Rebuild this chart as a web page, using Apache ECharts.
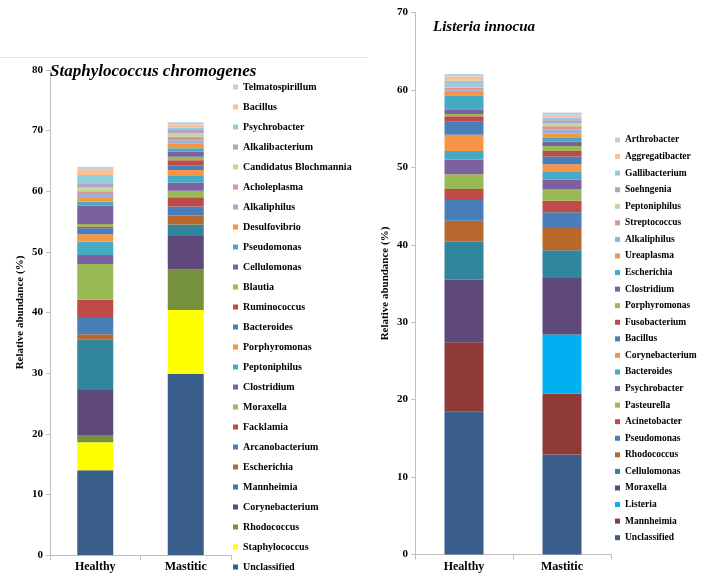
<!DOCTYPE html>
<html>
<head>
<meta charset="utf-8">
<script src="https://cdn.jsdelivr.net/npm/echarts@6/dist/echarts.min.js"></script>
<style>html,body{margin:0;padding:0;background:#fff}#c{width:708px;height:576px}</style>
</head>
<body>
<div id="c"></div>
<script>
// ---------- DATA ----------
const categories = ['Healthy', 'Mastitic'];

// Staphylococcus chromogenes (stack order bottom -> top)
const leftNames = ['Unclassified','Staphylococcus','Rhodococcus','Corynebacterium','Mannheimia','Escherichia',
  'Arcanobacterium','Facklamia','Moraxella','Clostridium','Peptoniphilus','Porphyromonas','Bacteroides',
  'Ruminococcus','Blautia','Cellulomonas','Pseudomonas','Desulfovibrio','Alkaliphilus','Acholeplasma',
  'Candidatus Blochmannia','Alkalibacterium','Psychrobacter','Bacillus','Telmatospirillum'];
const leftHealthy  = [14.0,4.6,1.2,7.4,8.3,0.9,2.7,3.0,5.9,1.5,2.2,1.2,1.0,0.3,0.4,3.0,0.7,0.6,0.8,0.3,0.6,0.7,1.4,0.9,0.4];
const leftMastitic = [29.9,10.5,6.7,5.5,1.9,1.5,1.5,1.5,1.1,1.3,1.1,1.0,0.8,0.8,0.6,0.8,0.6,0.8,0.5,0.6,0.6,0.5,0.4,0.5,0.4];

// Listeria innocua (stack order bottom -> top)
const rightNames = ['Unclassified','Mannheimia','Listeria','Moraxella','Cellulomonas','Rhodococcus','Pseudomonas',
  'Acinetobacter','Pasteurella','Psychrobacter','Bacteroides','Corynebacterium','Bacillus','Fusobacterium',
  'Porphyromonas','Clostridium','Escherichia','Ureaplasma','Alkaliphilus','Streptococcus','Peptoniphilus',
  'Soehngenia','Gallibacterium','Aggregatibacter','Arthrobacter'];
const rightHealthy  = [18.5,8.9,0,8.1,4.9,2.7,2.7,1.4,1.9,1.9,1.1,2.1,1.7,0.7,0.3,0.6,1.8,0.6,0.1,0.3,0.1,0.2,0.6,0.55,0.3];
const rightMastitic = [12.9,7.85,7.65,7.3,3.6,3.0,1.9,1.5,1.5,1.2,1.1,0.9,1.0,0.7,0.65,0.55,0.5,0.6,0.5,0.4,0.4,0.4,0.3,0.3,0.4];

const leftTicks = [0,10,20,30,40,50,60,70,80];
const rightTicks = [0,10,20,30,40,50,60,70];

// ---------- STYLE ----------
const C = {
  dkBlue:'#3A5E8C', yellow:'#FFFF00', olive:'#76923C', dkPurple:'#5F497A', dkTeal:'#31859C', dkOrange:'#B9682D',
  dkRed:'#8F3A36', cyan:'#00B0F0', blue:'#4A7EBB', red:'#BE4B48', green:'#98B954', purple:'#7D60A0',
  teal:'#46AAC5', orange:'#F69546', ltBlue:'#95B3D7', pink:'#D99694', ltGreen:'#C3D69B', lavender:'#B3A2C7',
  ltTeal:'#93CDDD', peach:'#FAC090', ltLav:'#C0CDE6'
};
const base = ['blue','red','green','purple','teal','orange','blue','red','green','purple','teal','orange'];
const light = ['ltBlue','pink','ltGreen','lavender','ltTeal','peach','ltLav'];
const leftColors = ['dkBlue','yellow','olive','dkPurple','dkTeal','dkOrange'].concat(base, light).map(k => C[k]);
const rightColors = ['dkBlue','dkRed','cyan','dkPurple','dkTeal','dkOrange'].concat(base, light).map(k => C[k]);

const serif = 'Liberation Serif, Times New Roman, serif';
const axisGray = '#BFBFBF';

function yAxis(idx, max, ticks) {
  return {
    type:'value', gridIndex: idx, min: ticks[0], max: max, interval: 10,
    name: 'Relative abundance (%)', nameLocation:'middle', nameGap: 24, nameRotate: 90,
    nameTextStyle: {fontFamily: serif, fontWeight:'bold', fontSize: 11, color:'#000'},
    axisLine: {show:true, lineStyle:{color: axisGray}},
    axisTick: {show:true, length:4, lineStyle:{color: axisGray}},
    splitLine: {show:false},
    axisLabel: {fontFamily: serif, fontWeight:'bold', fontSize: 11, color:'#000', margin: 7}
  };
}
function xAxis(idx) {
  return {
    type:'category', gridIndex: idx, data: categories,
    axisLine: {show:true, lineStyle:{color: axisGray}},
    axisTick: {show:true, length:5, lineStyle:{color: axisGray}},
    axisLabel: {fontFamily: serif, fontWeight:'bold', fontSize: 12, color:'#000', margin: 6}
  };
}

const series = [];
leftNames.forEach((n, i) => series.push({
  type:'bar', name:n, stack:'L', xAxisIndex:0, yAxisIndex:0, barWidth:36,
  itemStyle:{color: leftColors[i]}, data:[leftHealthy[i], leftMastitic[i]]
}));
rightNames.forEach((n, i) => series.push({
  type:'bar', name:n, stack:'R', xAxisIndex:1, yAxisIndex:1, barWidth:39,
  itemStyle:{color: rightColors[i]}, data:[rightHealthy[i], rightMastitic[i]]
}));

const legendText = {fontFamily: serif, fontWeight:'bold', color:'#000', lineHeight:12};
const leftLegendData = leftNames.map((n,i) => ({name:n, itemStyle:{color:leftColors[i]}})).reverse();
const rightLegendData = rightNames.map((n,i) => ({name:n, itemStyle:{color:rightColors[i]}})).reverse();

const option = {
  animation:false,
  backgroundColor:'#fff',
  title: [
    {text:'Staphylococcus chromogenes', left:50, top:63, padding:0,
     textStyle:{fontFamily: serif, fontWeight:'bold', fontStyle:'italic', fontSize:17, color:'#000'}},
    {text:'Listeria innocua', left:433, top:20, padding:0,
     textStyle:{fontFamily: serif, fontWeight:'bold', fontStyle:'italic', fontSize:15, color:'#000'}}
  ],
  grid: [
    {left:50, top:70, width:181, height:485},
    {left:415, top:12.5, width:196, height:542}
  ],
  xAxis: [xAxis(0), xAxis(1)],
  yAxis: [yAxis(0, 80, leftTicks), yAxis(1, 70, rightTicks)],
  legend: [
    {orient:'vertical', left:233, top:81, padding:0, itemWidth:5, itemHeight:5, itemGap:8, icon:'rect',
     selectedMode:false, textStyle:Object.assign({fontSize:10}, legendText), data:leftLegendData},
    {orient:'vertical', left:615, top:134, padding:0, itemWidth:5, itemHeight:5, itemGap:4.57, icon:'rect',
     selectedMode:false, textStyle:Object.assign({fontSize:9.5}, legendText), data:rightLegendData}
  ],
  graphic: [
    {type:'line', shape:{x1:0, y1:57.5, x2:368, y2:57.5}, style:{stroke:'#E0E0E0', lineWidth:1}}
  ],
  series: series
};

const chart = echarts.init(document.getElementById('c'), null, {renderer:'canvas'});
chart.setOption(option);
</script>
</body>
</html>
